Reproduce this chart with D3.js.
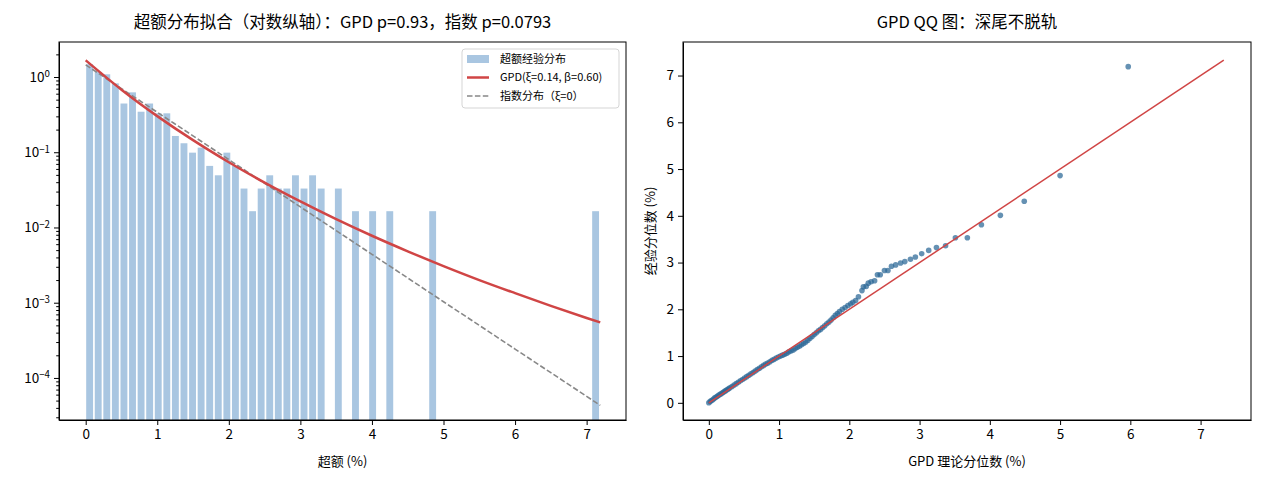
<!DOCTYPE html>
<html>
<head>
<meta charset="utf-8">
<script src="https://cdn.jsdelivr.net/npm/d3@7"></script>
<style>
  body { margin: 0; background: #fff; }
  svg { font-family: "Noto Sans CJK SC", "Noto Sans", sans-serif; }
</style>
</head>
<body>
<div id="chart"></div>
<script>
// histogram of excesses: 60 bins over [0, 7.19]
var binMax = 7.19;
var binCounts = [90, 71, 66, 50, 27, 38, 21, 27, 20, 20, 10, 8, 6, 7, 4, 3, 6, 4, 2, 1,
                 2, 3, 2, 2, 3, 2, 3, 2, 0, 2, 0, 1, 0, 1, 0, 1, 0, 0, 0, 0,
                 1, 0, 0, 0, 0, 0, 0, 0, 0, 0, 0, 0, 0, 0, 0, 0, 0, 0, 0, 1];

// fitted densities
var curveX  = [0, 0.5, 1, 1.5, 2, 2.5, 3, 3.5, 4, 4.5, 5, 5.5, 6, 6.5, 7, 7.19];
var gpdDens = [1.667, 0.678, 0.302, 0.1447, 0.0737, 0.0395, 0.0222, 0.0129, 0.00776,
               0.00482, 0.00307, 0.00200, 0.00134, 0.000908, 0.000627, 0.000547];
var expDens = [1.449, 0.702, 0.340, 0.165, 0.0798, 0.0387, 0.01874, 0.00908, 0.00440,
               0.00213, 0.00103, 0.000500, 0.000242, 0.0001174, 0.0000569, 0.0000432];

// QQ points: GPD theoretical quantile vs empirical quantile
var qqTheo = [0.00, 0.02, 0.04, 0.06, 0.08, 0.10, 0.12, 0.14, 0.16, 0.18, 0.20, 0.22, 0.24, 0.26, 0.28,
              0.30, 0.33, 0.36, 0.39, 0.42, 0.45, 0.48, 0.51, 0.54, 0.57, 0.60, 0.63, 0.66, 0.69, 0.72,
              0.75, 0.78, 0.81, 0.84, 0.87, 0.90, 0.93, 0.96, 0.99, 1.02, 1.05, 1.08, 1.11, 1.14, 1.17,
              1.20, 1.23, 1.26, 1.29, 1.32, 1.35, 1.38, 1.41, 1.44, 1.47, 1.50, 1.53, 1.56, 1.59, 1.62,
              1.65, 1.68, 1.71, 1.74, 1.77, 1.80, 1.83, 1.86, 1.90, 1.94, 1.98, 2.02, 2.05, 2.09, 2.13,
              2.18, 2.20, 2.24, 2.27, 2.31, 2.36, 2.40, 2.44, 2.50, 2.55, 2.60, 2.66, 2.73, 2.79, 2.87,
              2.94, 3.03, 3.13, 3.24, 3.37, 3.51, 3.68, 3.88, 4.15, 4.49, 5.00, 5.97];
var qqEmp  = [0.00, 0.03, 0.05, 0.07, 0.10, 0.12, 0.14, 0.16, 0.18, 0.20, 0.22, 0.24, 0.26, 0.28, 0.30,
              0.32, 0.35, 0.38, 0.41, 0.44, 0.47, 0.50, 0.53, 0.56, 0.59, 0.62, 0.65, 0.68, 0.71, 0.74,
              0.77, 0.80, 0.83, 0.85, 0.88, 0.91, 0.93, 0.96, 0.98, 1.00, 1.02, 1.04, 1.06, 1.09, 1.11,
              1.13, 1.16, 1.19, 1.21, 1.24, 1.27, 1.30, 1.34, 1.38, 1.42, 1.46, 1.50, 1.54, 1.57, 1.61,
              1.65, 1.69, 1.73, 1.77, 1.82, 1.87, 1.91, 1.95, 2.00, 2.04, 2.08, 2.12, 2.15, 2.19, 2.27,
              2.40, 2.48, 2.49, 2.56, 2.59, 2.61, 2.74, 2.74, 2.83, 2.83, 2.92, 2.95, 2.99, 3.02, 3.07,
              3.12, 3.19, 3.26, 3.32, 3.36, 3.53, 3.53, 3.81, 4.01, 4.31, 4.86, 7.19];
var refLine = [0, 7.33];

var xTicks = [0, 1, 2, 3, 4, 5, 6, 7];
var logTicks = [0, -1, -2, -3, -4];
var qqTicks = [0, 1, 2, 3, 4, 5, 6, 7];

var W = 1265, H = 484;
var svg = d3.select("#chart").append("svg")
    .attr("width", W)
    .attr("height", H);

var tickFont = 13.5;

//---------------- left panel ----------------
var A = {x0: 59, x1: 626, y0: 42, y1: 420};

var x1 = d3.scaleLinear().domain([-0.373, 7.55]).range([A.x0, A.x1]);
var y1 = d3.scaleLog().domain([2.76e-5, 2.92]).range([A.y1, A.y0]);

var g1 = svg.append("g");
svg.append("clipPath").attr("id", "clip1")
    .append("rect").attr("x", A.x0).attr("y", A.y0)
    .attr("width", A.x1 - A.x0).attr("height", A.y1 - A.y0);

var binW = binMax / binCounts.length;
var N = d3.sum(binCounts);
var bins = binCounts.map(function(c, i) {
    return {left: i * binW, dens: c / (N * binW), count: c};
}).filter(function(d) { return d.count > 0; });

var pitch = x1(binW) - x1(0);
var plot1 = g1.append("g").attr("clip-path", "url(#clip1)");

plot1.selectAll("rect.bar")
    .data(bins)
    .join("rect")
    .attr("class", "bar")
    .attr("x", function(d) { return x1(d.left) + 0.5; })
    .attr("width", pitch - 1.7)
    .attr("y", function(d) { return y1(d.dens); })
    .attr("height", function(d) { return A.y1 - y1(d.dens); })
    .attr("fill", "#a9c6e1");

var line1 = d3.line()
    .x(function(d) { return x1(d[0]); })
    .y(function(d) { return y1(d[1]); })
    .curve(d3.curveMonotoneX);

plot1.append("path")
    .datum(curveX.map(function(v, i) { return [v, expDens[i]]; }))
    .attr("d", line1)
    .attr("fill", "none")
    .attr("stroke", "#888888")
    .attr("stroke-width", 1.6)
    .attr("stroke-dasharray", "5.5,2.4");

plot1.append("path")
    .datum(curveX.map(function(v, i) { return [v, gpdDens[i]]; }))
    .attr("d", line1)
    .attr("fill", "none")
    .attr("stroke", "#d04545")
    .attr("stroke-width", 2.5);

// axes
g1.append("g")
    .attr("transform", "translate(0," + A.y1 + ")")
    .call(d3.axisBottom(x1).tickValues(xTicks).tickSizeInner(5).tickSizeOuter(0).tickPadding(4));

var minorVals = [];
for (var e = -5; e <= 0; e++) {
    for (var m = 2; m <= 9; m++) {
        var v = m * Math.pow(10, e);
        if (v >= 2.76e-5 && v <= 2.92) minorVals.push(v);
    }
}
g1.append("g")
    .attr("transform", "translate(" + A.x0 + ",0)")
    .call(d3.axisLeft(y1).tickValues(minorVals).tickSizeInner(2.8).tickSizeOuter(0).tickFormat(""));

var yAxis1 = g1.append("g")
    .attr("transform", "translate(" + A.x0 + ",0)")
    .call(d3.axisLeft(y1).tickValues(logTicks.map(function(p) { return Math.pow(10, p); }))
        .tickSizeInner(5).tickSizeOuter(0).tickPadding(4).tickFormat(""));

yAxis1.selectAll(".tick").each(function(d) {
    var p = Math.round(Math.log10(d));
    var t = d3.select(this).append("text")
        .attr("x", -9)
        .attr("dy", "0.32em")
        .attr("text-anchor", "end")
        .attr("fill", "#000");
    t.append("tspan").text("10");
    t.append("tspan")
        .attr("dy", "-0.45em")
        .attr("font-size", "0.72em")
        .text(p === 0 ? "0" : "\u2212" + Math.abs(p));
});

g1.append("rect")
    .attr("x", A.x0).attr("y", A.y0)
    .attr("width", A.x1 - A.x0).attr("height", A.y1 - A.y0)
    .attr("fill", "none").attr("stroke", "#000").attr("stroke-width", 1);

g1.append("text")
    .attr("x", (A.x0 + A.x1) / 2).attr("y", 28)
    .attr("text-anchor", "middle")
    .attr("font-size", 16.5)
    .text("超额分布拟合（对数纵轴）：GPD p=0.93，指数 p=0.0793");

g1.append("text")
    .attr("x", (A.x0 + A.x1) / 2).attr("y", 466)
    .attr("text-anchor", "middle")
    .attr("font-size", 13)
    .text("超额 (%)");

// legend
var lg = g1.append("g").attr("transform", "translate(462,49)");
lg.append("rect")
    .attr("width", 157).attr("height", 59).attr("rx", 3)
    .attr("fill", "#fff").attr("fill-opacity", 0.8)
    .attr("stroke", "#d5d5d5");
var legendItems = [
    {label: "超额经验分布", kind: "bar"},
    {label: "GPD(ξ=0.14, β=0.60)", kind: "gpd"},
    {label: "指数分布（ξ=0）", kind: "exp"}
];
legendItems.forEach(function(it, i) {
    var cy = 10 + i * 18.5;
    if (it.kind === "bar") {
        lg.append("rect").attr("x", 5).attr("y", cy - 4).attr("width", 22).attr("height", 8).attr("fill", "#a9c6e1");
    } else if (it.kind === "gpd") {
        lg.append("line").attr("x1", 5).attr("x2", 27).attr("y1", cy).attr("y2", cy)
            .attr("stroke", "#d04545").attr("stroke-width", 2.5);
    } else {
        lg.append("line").attr("x1", 5).attr("x2", 27).attr("y1", cy).attr("y2", cy)
            .attr("stroke", "#888888").attr("stroke-width", 1.6).attr("stroke-dasharray", "5.5,2.4");
    }
    lg.append("text").attr("x", 38).attr("y", cy).attr("dy", "0.35em")
        .attr("font-size", 11).text(it.label);
});

//---------------- right panel ----------------
var B = {x0: 683, x1: 1251, y0: 42, y1: 420};
var x2 = d3.scaleLinear().domain([-0.3675, 7.7175]).range([B.x0, B.x1]);
var y2 = d3.scaleLinear().domain([-0.3675, 7.7175]).range([B.y1, B.y0]);

var g2 = svg.append("g");

var pts = qqTheo.map(function(t, i) { return [t, qqEmp[i]]; });
g2.append("g").selectAll("circle")
    .data(pts)
    .join("circle")
    .attr("cx", function(d) { return x2(d[0]); })
    .attr("cy", function(d) { return y2(d[1]); })
    .attr("r", 2.8)
    .attr("fill", "#2a6796")
    .attr("fill-opacity", 0.72);

g2.append("line")
    .attr("x1", x2(refLine[0])).attr("y1", y2(refLine[0]))
    .attr("x2", x2(refLine[1])).attr("y2", y2(refLine[1]))
    .attr("stroke", "#d04545").attr("stroke-width", 1.5);

g2.append("g")
    .attr("transform", "translate(0," + B.y1 + ")")
    .call(d3.axisBottom(x2).tickValues(qqTicks).tickSizeInner(5).tickSizeOuter(0).tickPadding(4));
g2.append("g")
    .attr("transform", "translate(" + B.x0 + ",0)")
    .call(d3.axisLeft(y2).tickValues(qqTicks).tickSizeInner(5).tickSizeOuter(0).tickPadding(4));

g2.append("rect")
    .attr("x", B.x0).attr("y", B.y0)
    .attr("width", B.x1 - B.x0).attr("height", B.y1 - B.y0)
    .attr("fill", "none").attr("stroke", "#000").attr("stroke-width", 1);

g2.append("text")
    .attr("x", (B.x0 + B.x1) / 2).attr("y", 28)
    .attr("text-anchor", "middle")
    .attr("font-size", 16.5)
    .text("GPD QQ 图：深尾不脱轨");

g2.append("text")
    .attr("x", (B.x0 + B.x1) / 2).attr("y", 466)
    .attr("text-anchor", "middle")
    .attr("font-size", 13)
    .text("GPD 理论分位数 (%)");

g2.append("text")
    .attr("transform", "translate(655," + (B.y0 + B.y1) / 2 + ") rotate(-90)")
    .attr("text-anchor", "middle")
    .attr("font-size", 13)
    .text("经验分位数 (%)");

// tick styling
svg.selectAll(".tick text").attr("font-size", tickFont).attr("fill", "#000")
    .attr("font-family", "\"Noto Sans CJK SC\", \"Noto Sans\", sans-serif");
svg.selectAll(".tick line").attr("stroke", "#000");
svg.selectAll(".domain").attr("stroke", "#000");
</script>
</body>
</html>
